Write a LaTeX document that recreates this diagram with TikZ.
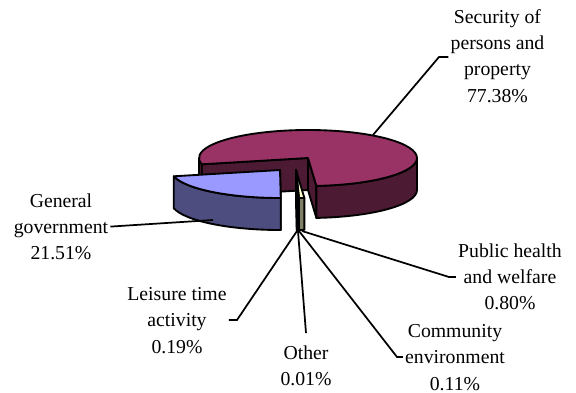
\documentclass[tikz,border=0pt]{standalone}
\usepackage{fontspec}
\setmainfont{Liberation Serif}
\usepackage{xcolor}
\usetikzlibrary{calc}

\definecolor{secTop}{RGB}{153,51,102}
\definecolor{secSide}{RGB}{77,26,51}
\definecolor{govTop}{RGB}{153,153,255}
\definecolor{govSide}{RGB}{77,77,128}
\definecolor{pubTop}{RGB}{255,255,204}
\definecolor{pubSide}{RGB}{128,128,102}
\definecolor{comTop}{RGB}{255,128,128}
\definecolor{comSide}{RGB}{128,64,64}
\definecolor{othTop}{RGB}{102,0,102}
\definecolor{othSide}{RGB}{51,0,51}
\definecolor{leiTop}{RGB}{204,255,255}
\definecolor{leiSide}{RGB}{102,128,128}

\tikzset{
  slice/.style={draw=black, line width=1.4pt, line join=round},
  rim/.style={x radius=109, y radius=28},
  leader/.style={draw=black, line width=1.3pt},
  lbl/.style={inner sep=1.5pt, align=center}
}

\begin{document}
\begin{tikzpicture}[x=0.75pt,y=0.75pt,yscale=-1,xscale=1,
  font=\fontsize{14.8}{19.7}\selectfont]
\useasboundingbox (0,0) rectangle (576,393);

% slice centres
\coordinate (secC) at (308,158);
\coordinate (govC) at (280,170);
\coordinate (smlC) at (296,170);

%Security of persons and property: cut faces
\path[slice, fill=secSide] (secC) -- ++(167:109 and 28) -- ++(0,32) -- ++(347:109 and 28) -- cycle;
\path[slice, fill=secSide] (secC) -- ++(85.6:109 and 28) -- ++(0,32) -- ++(265.6:109 and 28) -- cycle;
%Security: outer wall
\path[slice, fill=secSide] (secC) ++(167:109 and 28) arc[start angle=167, end angle=180, rim] -- ++(0,32) arc[start angle=180, end angle=167, rim] -- cycle;
\path[slice, fill=secSide] (secC) ++(0:109 and 28) arc[start angle=0, end angle=85.6, rim] -- ++(0,32) arc[start angle=85.6, end angle=0, rim] -- cycle;
%Security: top
\path[slice, fill=secTop] (secC) -- ++(85.6:109 and 28) arc[start angle=85.6, end angle=-193, rim] -- cycle;

%General government (pulled out)
\path[slice, fill=govSide] (govC) -- ++(89.6:109 and 28) -- ++(0,32) -- ++(269.6:109 and 28) -- cycle;
\path[slice, fill=govSide] (govC) ++(89.6:109 and 28) arc[start angle=89.6, end angle=167, rim] -- ++(0,32) arc[start angle=167, end angle=89.6, rim] -- cycle;
\path[slice, fill=govTop] (govC) -- ++(89.6:109 and 28) arc[start angle=89.6, end angle=167, rim] -- cycle;

%Public health and welfare
\path[slice, fill=pubSide] (smlC) -- ++(88.46:109 and 28) -- ++(0,32) -- ++(268.46:109 and 28) -- cycle;
\path[slice, fill=pubSide] (smlC) ++(85.6:109 and 28) arc[start angle=85.6, end angle=88.46, rim] -- ++(0,32) arc[start angle=88.46, end angle=85.6, rim] -- cycle;
\path[slice, fill=pubTop] (smlC) -- ++(85.6:109 and 28) arc[start angle=85.6, end angle=88.46, rim] -- cycle;
%Community environment
\path[slice, fill=comSide] (smlC) ++(88.46:109 and 28) arc[start angle=88.46, end angle=88.86, rim] -- ++(0,32) arc[start angle=88.86, end angle=88.46, rim] -- cycle;
\path[slice, fill=comTop] (smlC) -- ++(88.46:109 and 28) arc[start angle=88.46, end angle=88.86, rim] -- cycle;
%Other
\path[slice, fill=othSide] (smlC) ++(88.86:109 and 28) arc[start angle=88.86, end angle=88.9, rim] -- ++(0,32) arc[start angle=88.9, end angle=88.86, rim] -- cycle;
\path[slice, fill=othTop] (smlC) -- ++(88.86:109 and 28) arc[start angle=88.86, end angle=88.9, rim] -- cycle;
%Leisure time activity
\path[slice, fill=leiSide] (smlC) -- ++(89.6:109 and 28) -- ++(0,32) -- ++(269.6:109 and 28) -- cycle;
\path[slice, fill=leiSide] (smlC) ++(88.9:109 and 28) arc[start angle=88.9, end angle=89.6, rim] -- ++(0,32) arc[start angle=89.6, end angle=88.9, rim] -- cycle;
\path[slice, fill=leiTop] (smlC) -- ++(88.9:109 and 28) arc[start angle=88.9, end angle=89.6, rim] -- cycle;

% Text Node
\node[lbl] (sec) at (497.5,56) {Security of\\persons and\\property\\77.38\%};
% Text Node
\node[lbl] (gen) at (61,226.6) {General\\government\\21.51\%};
% Text Node
\node[lbl] (pub) at (510,277) {Public health\\and welfare\\0.80\%};
% Text Node
\node[lbl] (lei) at (177,320.5) {Leisure time\\activity\\0.19\%};
% Text Node
\node[lbl] (com) at (455,357.5) {Community\\environment\\0.11\%};
% Text Node
\node[lbl] (oth) at (306,365.5) {Other\\0.01\%};

% leader ends on the slices
\coordinate (secPt) at (373,135);
\coordinate (genPt) at (213,220);
\coordinate (leiPt) at (297,231);
\coordinate (othPt) at (298,231);
\coordinate (comPt) at (299,231);
\coordinate (pubPt) at (302,231);
% leader bends
\coordinate (secBend) at (439,57);
\coordinate (leiBend) at (237,320);
\coordinate (comBend) at (397,357);
\coordinate (pubBend) at (449,277);
\coordinate (othEnd) at ($(oth.north)+(0,-10)$);

%Straight Lines
\draw[leader] (secPt) -- (secBend) -- (secBend -| sec.west);
\draw[leader] (genPt) -- (gen.east);
\draw[leader] (leiPt) -- (leiBend) -- (leiBend -| lei.east);
\draw[leader] (othPt) -- (othEnd);
\draw[leader] (comPt) -- (comBend) -- (comBend -| com.west);
\draw[leader] (pubPt) -- (pubBend) -- (pubBend -| pub.west);

\end{tikzpicture}
\end{document}
